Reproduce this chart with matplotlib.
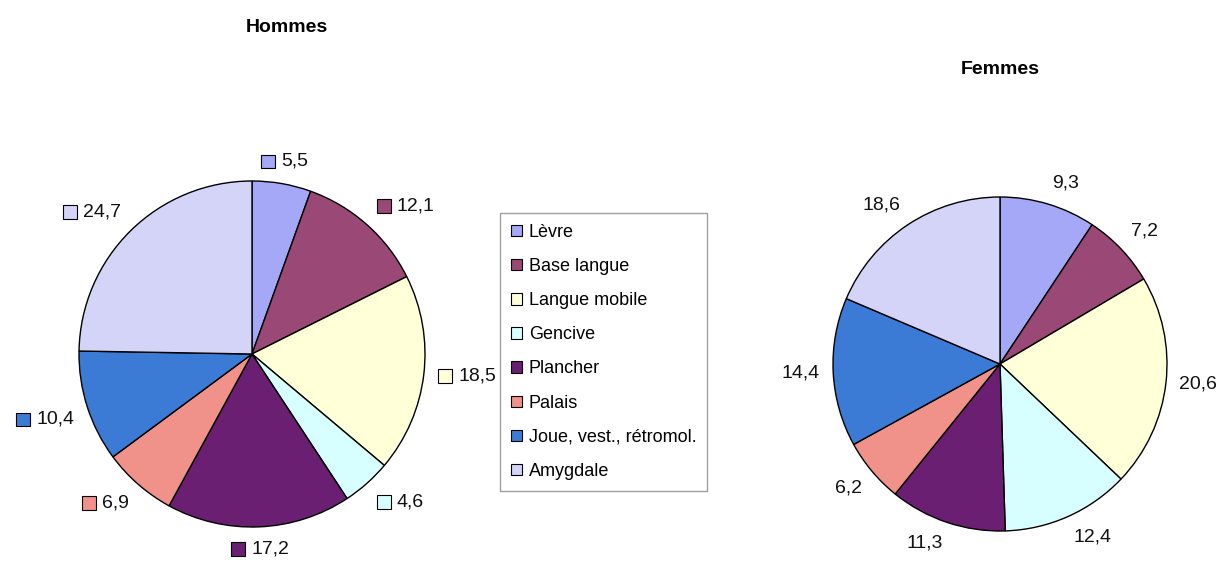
import numpy as np
import matplotlib.pyplot as plt
from matplotlib.patches import Patch, Rectangle
from matplotlib.offsetbox import AnnotationBbox, DrawingArea, TextArea, HPacker

plt.rcParams['font.family'] = ['Liberation Sans', 'DejaVu Sans']

# Data
categories = ['Lèvre', 'Base langue', 'Langue mobile', 'Gencive', 'Plancher',
              'Palais', 'Joue, vest., rétromol.', 'Amygdale']
hommes = [5.5, 12.1, 18.5, 4.6, 17.2, 6.9, 10.4, 24.7]
femmes = [9.3, 7.2, 20.6, 12.4, 11.3, 6.2, 14.4, 18.6]
colors = ['#a4a8f6', '#9a4876', '#ffffd8', '#d8ffff', '#6a1f72',
          '#f0928a', '#3b7bd6', '#d4d4f8']

W, H = 1224, 563
fig = plt.figure(figsize=(W / 100, H / 100), dpi=100)


def pie_axes(cx, cy, r):
    return fig.add_axes([(cx - r) / W, (H - cy - r) / H, 2 * r / W, 2 * r / H])


def fmt(v):
    return f'{v:.1f}'.replace('.', ',')


def anchor_align(theta, dist):
    # theta in radians, measured from the positive x axis (counter-clockwise)
    x, y = dist * np.cos(theta), dist * np.sin(theta)
    ha = 0.0 if x > 0.3 else (1.0 if x < -0.3 else 0.5)
    va = 0.0 if y > 0.3 else (1.0 if y < -0.3 else 0.5)
    return x, y, ha, va


def draw_pie(ax, values, with_box):
    wedges, _ = ax.pie(values, colors=colors, startangle=90, counterclock=False,
                       wedgeprops=dict(edgecolor='black', linewidth=1.0))
    ax.set_xlim(-1, 1)
    ax.set_ylim(-1, 1)
    ax.set_aspect('equal')
    for w, v in zip(wedges, values):
        theta = np.radians((w.theta1 + w.theta2) / 2)
        x, y, ha, va = anchor_align(theta, 1.08)
        txt = TextArea(fmt(v), textprops=dict(fontsize=14, color='#111111'))
        if with_box:
            da = DrawingArea(11, 11, 0, 0)
            da.add_artist(Rectangle((0.5, 0.5), 10, 10, facecolor=w.get_facecolor(),
                                    edgecolor='black', linewidth=0.8))
            child = HPacker(children=[da, txt], align='center', pad=0, sep=4)
        else:
            child = txt
        ab = AnnotationBbox(child, (x, y), box_alignment=(ha, va), frameon=False,
                            pad=0, annotation_clip=False)
        ax.add_artist(ab)


ax1 = pie_axes(252, 354, 173)
draw_pie(ax1, hommes, True)
ax2 = pie_axes(1000, 364, 167)
draw_pie(ax2, femmes, False)

fig.text(287 / W, 1 - 28 / H, 'Hommes', ha='center', va='center',
         fontsize=14, fontweight='bold')
fig.text(1000 / W, 1 - 70 / H, 'Femmes', ha='center', va='center',
         fontsize=14, fontweight='bold')

handles = [Patch(facecolor=c, edgecolor='black', linewidth=0.8) for c in colors]
leg = fig.legend(handles, categories, loc='upper left',
                 bbox_to_anchor=(500 / W, 1 - 213 / H), fontsize=13,
                 frameon=True, fancybox=False, edgecolor='#888888',
                 handlelength=0.6, handleheight=0.6, handletextpad=0.4,
                 labelspacing=0.95, borderpad=0.6, borderaxespad=0)
leg.get_frame().set_linewidth(1.0)

fig.savefig('out.png', dpi=100, facecolor='white')
